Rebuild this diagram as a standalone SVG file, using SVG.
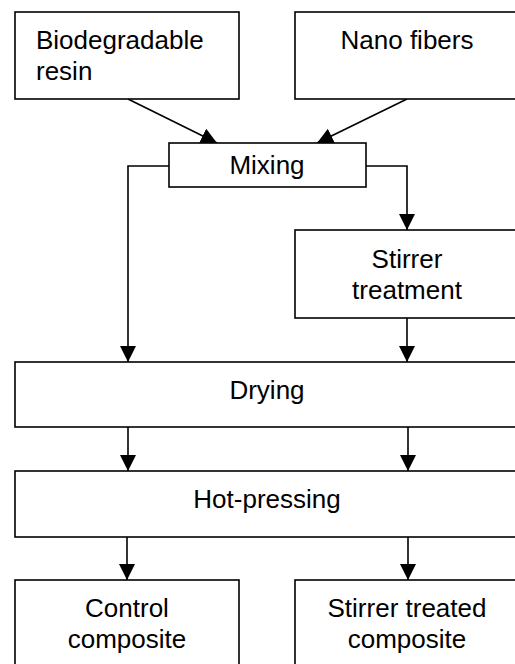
<svg xmlns="http://www.w3.org/2000/svg" width="515" height="664" viewBox="0 0 515 664">
<style>
.box{fill:#fff;stroke:#000;stroke-width:1.6}
.t{font-family:"Liberation Sans",Arial,sans-serif;font-size:26px;fill:#000}
.c{text-anchor:middle}
.ln{fill:none;stroke:#000;stroke-width:1.6}
</style>
<defs>
<marker id="ah" markerUnits="userSpaceOnUse" markerWidth="16" markerHeight="16" viewBox="0 0 14 14" refX="14" refY="7" orient="auto">
<path d="M0,0 L14,7 L0,14 Z" fill="#000"/>
</marker>
</defs>
<rect width="515" height="664" fill="#fff"/>
<g id="connectors">
<path class="ln" d="M128,99 L217,143" marker-end="url(#ah)"/>
<path class="ln" d="M407,99 L317,143" marker-end="url(#ah)"/>
<path class="ln" d="M169,166 H128 V362" marker-end="url(#ah)"/>
<path class="ln" d="M366,166 H407 V230" marker-end="url(#ah)"/>
<path class="ln" d="M407,318 V362" marker-end="url(#ah)"/>
<path class="ln" d="M128,427 V471" marker-end="url(#ah)"/>
<path class="ln" d="M408,427 V471" marker-end="url(#ah)"/>
<path class="ln" d="M127,537 V580" marker-end="url(#ah)"/>
<path class="ln" d="M408,537 V580" marker-end="url(#ah)"/>
</g>
<g id="biodegradable-resin">
<rect class="box" x="15" y="12" width="224" height="87"/>
<text class="t" x="36" y="49">Biodegradable</text>
<text class="t" x="36" y="80">resin</text>
</g>
<g id="nano-fibers">
<rect class="box" x="295" y="12" width="230" height="87"/>
<text class="t c" x="407" y="49">Nano fibers</text>
</g>
<g id="mixing">
<rect class="box" x="169" y="143" width="197" height="44"/>
<text class="t c" x="267" y="174">Mixing</text>
</g>
<g id="stirrer-treatment">
<rect class="box" x="295" y="230" width="230" height="88"/>
<text class="t c" x="407" y="268">Stirrer</text>
<text class="t c" x="407" y="299">treatment</text>
</g>
<g id="drying">
<rect class="box" x="15" y="362" width="510" height="65"/>
<text class="t c" x="267" y="399">Drying</text>
</g>
<g id="hot-pressing">
<rect class="box" x="15" y="471" width="510" height="66"/>
<text class="t c" x="267" y="508">Hot-pressing</text>
</g>
<g id="control-composite">
<rect class="box" x="15" y="580" width="224" height="100"/>
<text class="t c" x="127" y="617">Control</text>
<text class="t c" x="127" y="648">composite</text>
</g>
<g id="stirrer-treated-composite">
<rect class="box" x="295" y="580" width="230" height="100"/>
<text class="t c" x="407" y="617">Stirrer treated</text>
<text class="t c" x="407" y="648">composite</text>
</g>
</svg>
